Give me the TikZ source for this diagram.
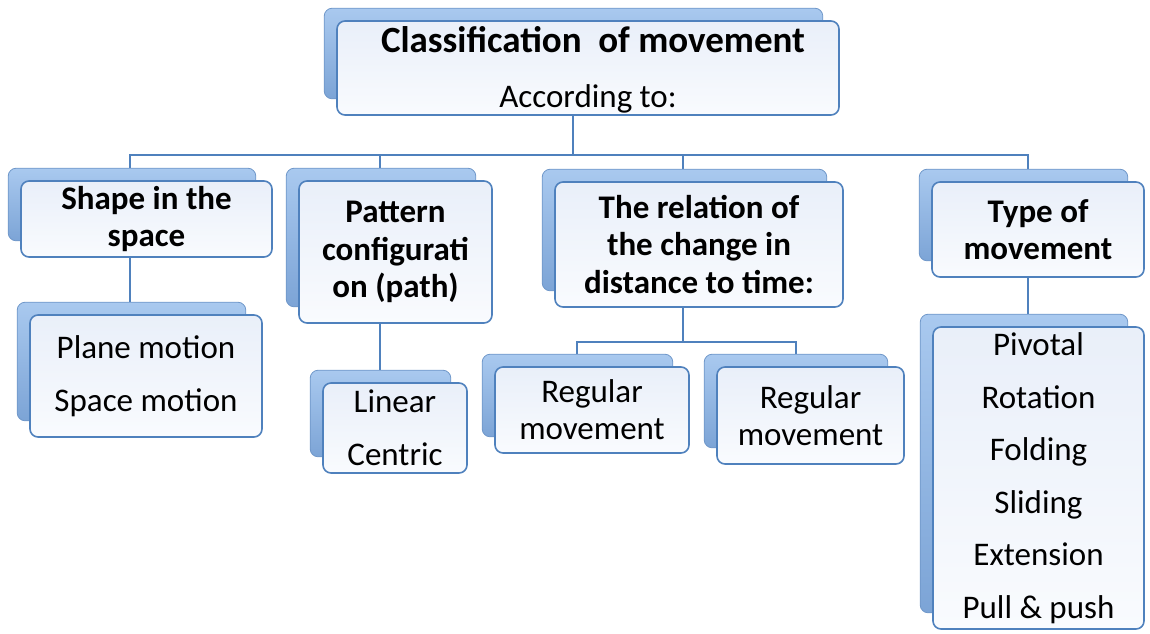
\documentclass[tikz,border=0pt]{standalone}
\usepackage{fontspec}
\setmainfont{Carlito}
\usetikzlibrary{backgrounds,calc}
\definecolor{bordblue}{HTML}{4F81BD}
\definecolor{shtop}{HTML}{A9C9EF}
\definecolor{shbot}{HTML}{7CA4D6}
\definecolor{shline}{HTML}{6F97C9}
\definecolor{frtop}{HTML}{E9EFF9}
\definecolor{frbot}{HTML}{F9FBFE}
\tikzset{
  box/.style={draw=bordblue, line width=1.6pt, rounded corners=8pt, top color=frtop, bottom color=frbot, align=center, inner sep=0pt, text=black},
  hbox/.style={box, font=\bfseries\fontsize{33}{37.5}\selectfont},
  lbox/.style={box, font=\fontsize{33}{52.5}\selectfont},
  rbox/.style={box, font=\fontsize{33}{37}\selectfont},
  shadowbox/.style={draw=shline, line width=0.8pt, rounded corners=8pt, top color=shtop, bottom color=shbot},
  conn/.style={draw=bordblue, line width=1.8pt},
}
\newcommand\boxshadow[1]{\path[shadowbox] ([shift={(-12pt,12pt)}]#1.north west) rectangle ([shift={(-17pt,17pt)}]#1.south east);}
\begin{document}
\begin{tikzpicture}[x=1pt,y=-1pt]
\useasboundingbox (0,0) rectangle (1150,633);
% boxes
\node[box, minimum width=502pt, minimum height=94pt] (top) at (588,68) {};
\node[font=\bfseries\fontsize{37}{40}\selectfont, anchor=base, inner sep=0pt] (toptitle) at (593,52) {Classification\hspace{0.45em}of movement};
\node[font=\fontsize{33}{37}\selectfont, anchor=base, inner sep=0pt] (topsub) at (588,107) {According to:};

\node[hbox, minimum width=251pt, minimum height=76pt] (b1) at (146.5,219) {Shape in the\\space};
\node[lbox, minimum width=232pt, minimum height=122pt] (b1a) at (146,376) {Plane motion\\Space motion};
\node[hbox, minimum width=193pt, minimum height=142pt] (b2) at (395.5,252) {Pattern\\configurati\\on (path)};
\node[lbox, minimum width=144pt, minimum height=90pt] (b2a) at (395,428) {Linear\\Centric};
\node[hbox, minimum width=288pt, minimum height=125pt] (b3) at (699,244.5) {The relation of\\the change in\\distance to time:};
\node[rbox, minimum width=194pt, minimum height=86pt] (b3a) at (592,410) {Regular\\movement};
\node[rbox, minimum width=187pt, minimum height=97pt] (b3b) at (810.5,415.5) {Regular\\movement};
\node[hbox, minimum width=212pt, minimum height=95pt] (b4) at (1038,229.5) {Type of\\movement};
\node[lbox, minimum width=211pt, minimum height=302pt] (b4a) at (1038.5,478) {Pivotal\\Rotation\\Folding\\Sliding\\Extension\\Pull \& push};

\begin{scope}[on background layer]
  \coordinate (bus) at (573,155);
  \coordinate (split) at (683,342);
  \draw[conn] ([xshift=-15pt]top.south) -- (bus);
  \draw[conn] (bus) -| ([xshift=-16.5pt]b1.north);
  \draw[conn] (bus) -| ([xshift=-15.5pt]b2.north);
  \draw[conn] (bus) -| ([xshift=-16pt]b3.north);
  \draw[conn] (bus) -| ([xshift=-10pt]b4.north);
  \draw[conn] ([xshift=-16.5pt]b1.south) -- ([xshift=-16pt]b1a.north);
  \draw[conn] ([xshift=-15.5pt]b2.south) -- ([xshift=-15pt]b2a.north);
  \draw[conn] ([xshift=-16pt]b3.south) -- (split);
  \draw[conn] (split) -| ([xshift=-15pt]b3a.north);
  \draw[conn] (split) -| ([xshift=-14.5pt]b3b.north);
  \draw[conn] ([xshift=-10pt]b4.south) -- ([xshift=-10.5pt]b4a.north);
  \boxshadow{top}
  \boxshadow{b1}
  \boxshadow{b1a}
  \boxshadow{b2}
  \boxshadow{b2a}
  \boxshadow{b3}
  \boxshadow{b3a}
  \boxshadow{b3b}
  \boxshadow{b4}
  \boxshadow{b4a}
\end{scope}
\end{tikzpicture}
\end{document}
